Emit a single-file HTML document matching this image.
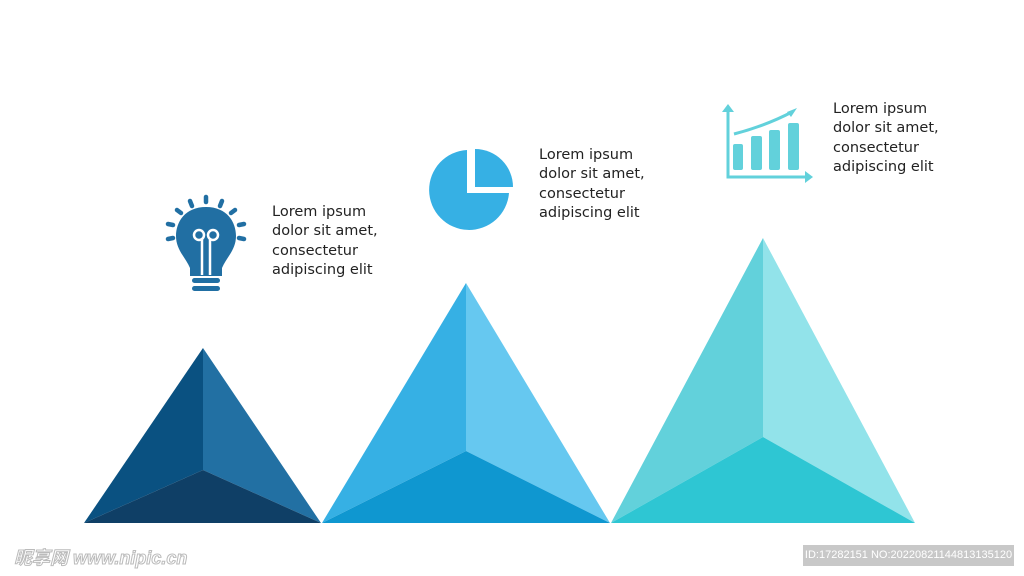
<!DOCTYPE html>
<html><head><style>
body{margin:0;width:1024px;height:576px;background:#fff;position:relative;overflow:hidden;font-family:"DejaVu Sans","Liberation Sans",sans-serif}
.t{position:absolute;font-size:14.5px;line-height:19.3px;color:#222}
.wm{position:absolute;left:803px;top:545px;width:211px;height:21px;background:#c8c8c8;color:#fff;font-size:11px;line-height:21px;text-align:center;font-family:"Liberation Sans",sans-serif}
.wl{position:absolute;left:14px;top:544px;color:#fff;font-size:18px;font-family:"Liberation Sans","Noto Sans CJK SC",sans-serif;font-weight:bold;-webkit-text-stroke:1px #bbb;font-style:italic}
</style></head><body>
<svg width="1024" height="576" style="position:absolute;left:0;top:0">
<polygon points="203,348 203,470 84,523" fill="#0a5181"/>
<polygon points="203,348 203,470 321,523" fill="#2270a3"/>
<polygon points="84,523 203,470 321,523" fill="#0f3f66"/>
<polygon points="466,283 466,451 322,523" fill="#36b0e4"/>
<polygon points="466,283 466,451 610,523" fill="#66c8f0"/>
<polygon points="322,523 466,451 610,523" fill="#0f97d0"/>
<polygon points="763,238 763,437 611,523" fill="#62d1db"/>
<polygon points="763,238 763,437 915,523" fill="#92e3ea"/>
<polygon points="611,523 763,437 915,523" fill="#2ec6d3"/>
<!-- bulb -->
<g fill="#216fa3">
<path d="M206,207 C185,207 176,222 176,236 C176,250 186,258 190,268 L190,276 L222,276 L222,268 C226,258 236,250 236,236 C236,222 227,207 206,207Z"/>
<rect x="192" y="278" width="28" height="5" rx="2.5"/>
<rect x="192" y="286" width="28" height="5" rx="2.5"/>
<g stroke="#216fa3" stroke-width="4.5" stroke-linecap="round">
<line x1="206" y1="197" x2="206" y2="202"/><line x1="190" y1="201" x2="192" y2="206"/><line x1="222" y1="201" x2="220" y2="206"/>
<line x1="177" y1="210" x2="181" y2="213"/><line x1="235" y1="210" x2="231" y2="213"/>
<line x1="168" y1="224" x2="173" y2="225"/><line x1="244" y1="224" x2="239" y2="225"/>
<line x1="168" y1="239" x2="173" y2="238"/><line x1="244" y1="239" x2="239" y2="238"/>
</g></g>
<g fill="none" stroke="#fff" stroke-width="2.5">
<circle cx="199" cy="235" r="5"/><circle cx="213" cy="235" r="5"/>
<line x1="202" y1="238" x2="202" y2="275"/><line x1="210" y1="238" x2="210" y2="275"/>
</g>
<!-- pie -->
<path d="M467,150 A40,40 0 1,0 509,193 L467,193Z" fill="#36b0e4"/>
<path d="M475,149 A38,38 0 0,1 513,187 L475,187Z" fill="#36b0e4"/>
<!-- chart -->
<g fill="#62d1db">
<rect x="733" y="144" width="10" height="26" rx="2"/>
<rect x="751" y="136" width="11" height="34" rx="2"/>
<rect x="769" y="130" width="11" height="40" rx="2"/>
<rect x="788" y="123" width="11" height="47" rx="2"/>
<path d="M722,112 L728,104 L734,112Z"/><path d="M805,171 L813,177 L805,183Z"/>
<path d="M787,112 L797,108 L791,117Z"/>
</g>
<g fill="none" stroke="#62d1db" stroke-width="3">
<polyline points="728,110 728,177 807,177"/>
<path d="M734,134 Q765,126 792,112"/>
</g>
</svg>
<div class="t" style="left:272px;top:203px">Lorem ipsum<br>dolor sit amet,<br>consectetur<br>adipiscing elit</div>
<div class="t" style="left:539px;top:146px">Lorem ipsum<br>dolor sit amet,<br>consectetur<br>adipiscing elit</div>
<div class="t" style="left:833px;top:100px">Lorem ipsum<br>dolor sit amet,<br>consectetur<br>adipiscing elit</div>
<div class="wl">昵享网 www.nipic.cn</div>
<div class="wm">ID:17282151 NO:20220821144813135120</div>
</body></html>
